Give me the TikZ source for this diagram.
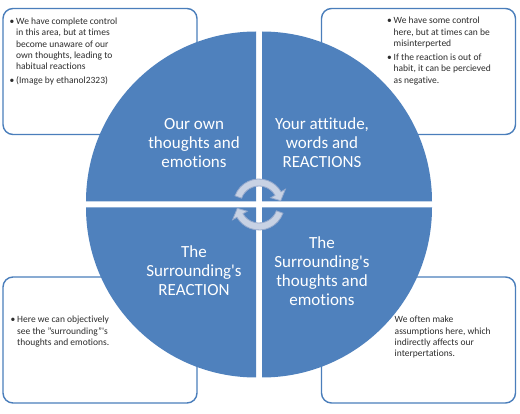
\documentclass[tikz,border=0pt]{standalone}
\usepackage{fontspec}
\setmainfont{Carlito}[Ligatures=NoCommon]
\usetikzlibrary{calc}

\definecolor{quadblue}{RGB}{79,129,189}
\definecolor{boxblue}{RGB}{74,126,187}
\definecolor{turnfill}{RGB}{200,210,228}
\definecolor{turnline}{RGB}{150,170,205}
\definecolor{notegray}{RGB}{45,45,45}

\newcommand{\bul}{\makebox[6.5pt][l]{\textbullet}}
\newcommand{\ind}{\hspace*{6.5pt}}

\begin{document}
\begin{tikzpicture}[
      x=1pt, y=-1pt,
      notebox/.style={
          rectangle, draw=boxblue, line width=1.4pt,
          rounded corners=10pt, fill=white,
          minimum width=194pt, minimum height=126pt
        },
      note/.style={
          anchor=north west, inner sep=0pt, align=left,
          text=notegray, font=\fontsize{9.5}{11.4}\selectfont
        },
      quad/.style={fill=quadblue},
      quadtext/.style={
          text=white, align=center, inner sep=0pt,
          font=\fontsize{17}{19}\selectfont
        },
      turn/.style={fill=turnfill, draw=turnline, line width=0.8pt},
    ]
    \useasboundingbox (0,0) rectangle (520,414);

    % note boxes, behind the circle
    \node[notebox] (tlbox) at (100,71.5) {};
    \node[notebox] (trbox) at (418.5,71.5) {};
    \node[notebox] (blbox) at (100,340) {};
    \node[notebox] (brbox) at (418.5,340) {};

    % the four quarters
    \coordinate (mid) at (259,204.5);
    \foreach \sx/\sy/\a in {-1/-1/180, 1/-1/270, 1/1/0, -1/1/90}
      \fill[quad] ($(mid)+(3*\sx,3*\sy)$) -- +(\a:170)
        arc[start angle=\a, delta angle=90, radius=170] -- cycle;

    % turning arrows
    \foreach \r in {0,180}
      \filldraw[turn, shift={(mid)}, rotate=\r]
        (200:25.5) arc[start angle=200, end angle=330, radius=25.5]
        -- (330:30.5) -- (350:22) -- (330:13.5) -- (330:18.5)
        arc[start angle=330, end angle=200, radius=18.5] -- cycle;

    % quarter texts
    \node[quadtext] (own) at (194,143) {Our own\\thoughts and\\emotions};
    \node[quadtext] (your) at (322,143) {Your attitude,\\words and\\REACTIONS};
    \node[quadtext] (sreact) at (194,271) {The\\Surrounding\textquotesingle s\\REACTION};
    \node[quadtext] (sthought) at (322,271) {The\\Surrounding\textquotesingle s\\thoughts and\\emotions};

    % notes
    \node[note] (tlnote) at (9.5,17.5) {\bul We have complete control\\
        \ind in this area, but at times\\
        \ind become unaware of our\\
        \ind own thoughts, leading to\\
        \ind habitual reactions\\[2.6pt]
        \bul (Image by ethanol2323)};
    \node[note] (trnote) at (387,17) {\bul We have some control\\
        \ind here, but at times can be\\
        \ind misinterperted\\[2.6pt]
        \bul If the reaction is out of\\
        \ind habit, it can be percieved\\
        \ind as negative.};
    \node[note] (blnote) at (10.5,316) {\bul Here we can objectively\\
        \ind see the "surrounding"\textquotesingle s\\
        \ind thoughts and emotions.};
    \node[note] (brnote) at (394.5,316) {We often make\\
        assumptions here, which\\
        indirectly affects our\\
        interpertations.};
  \end{tikzpicture}
\end{document}
